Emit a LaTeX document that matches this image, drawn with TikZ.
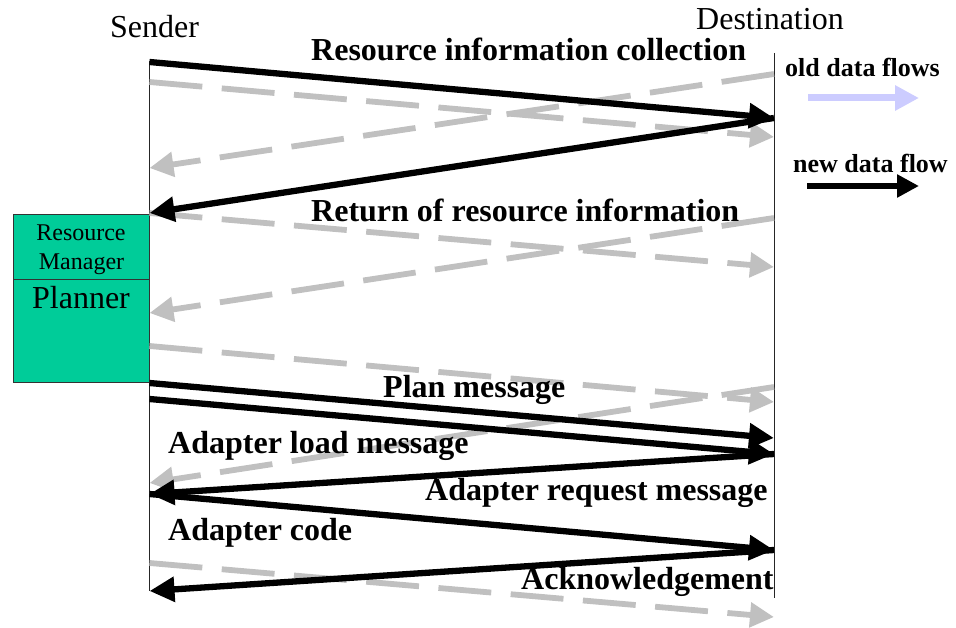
\documentclass[tikz,border=0pt]{standalone}
\usepackage{fontspec}
\setmainfont{Liberation Serif}
\usetikzlibrary{arrows.meta}
\definecolor{oldgray}{RGB}{192,192,192}
\definecolor{legendblue}{RGB}{204,204,255}
\definecolor{unitfill}{RGB}{0,204,153}

\begin{document}
\begin{tikzpicture}[x=1pt,y=-1pt,
  lifeline/.style={draw=black!85, line width=1pt},
  newflow/.style={draw=black, line width=6.3pt, -{Triangle[length=25pt,width=24pt]}},
  oldflow/.style={draw=oldgray, line width=5.8pt, dash pattern=on 53pt off 19.5pt,
    -{Triangle[length=24pt,width=24pt]}},
  heading/.style={font=\fontsize{32}{36}\selectfont, inner sep=0pt, anchor=base west},
  msglabel/.style={font=\fontsize{32}{36}\selectfont\bfseries, inner sep=0pt, anchor=base west},
  keylabel/.style={font=\fontsize{26}{30}\selectfont\bfseries, inner sep=0pt, anchor=base west},
  unit/.style={draw=black!80, line width=0.8pt, fill=unitfill, minimum width=136pt,
    inner sep=0pt, anchor=north west},
  unittext/.style={inner sep=0pt, anchor=base},
]
\useasboundingbox (0,0) rectangle (956,628);

% lifelines
\coordinate (sTop) at (149.5,61);
\coordinate (sEnd) at (149.5,591);
\coordinate (dTop) at (774,53);
\coordinate (dEnd) at (774,598);
\draw[lifeline] (sTop) -- (sEnd);
\draw[lifeline] (dTop) -- (dEnd);

% headings
\node[heading] (sender) at (110,37.7) {Sender};
\node[heading] (dest) at (696,29.3) {Destination};

% resource manager / planner unit
\node[unit, minimum height=65pt] (rm) at (13,214) {};
\node[unit, minimum height=103pt] (planner) at (13,279) {};
\node[unittext, font=\fontsize{24}{28}\selectfont] (rmA) at (81,240.7) {Resource};
\node[unittext, font=\fontsize{24}{28}\selectfont] (rmB) at (81.5,269.3) {Manager};
\node[unittext, font=\fontsize{32}{36}\selectfont] (plan) at (81,309) {Planner};

% message end points on the sender lifeline
\coordinate (s1) at (149.5,62);
\coordinate (s2) at (149.5,82);
\coordinate (s3) at (149.5,168);
\coordinate (s4) at (149.5,213);
\coordinate (s5) at (149.5,313);
\coordinate (s6) at (149.5,346);
\coordinate (s7) at (149.5,383);
\coordinate (s8) at (149.5,399);
\coordinate (s9) at (149.5,483);
\coordinate (s10) at (149.5,494);
\coordinate (s11) at (149.5,563);
\coordinate (s12) at (149.5,591);
% message end points on the destination lifeline
\coordinate (d1) at (774,74);
\coordinate (d2) at (774,118);
\coordinate (d3) at (774,137);
\coordinate (d4) at (774,218);
\coordinate (d5) at (774,267);
\coordinate (d6) at (774,387);
\coordinate (d7) at (774,402);
\coordinate (d8) at (774,438);
\coordinate (d9) at (774,454);
\coordinate (d10) at (774,550);
\coordinate (d11) at (774,617);

% old data flows
\draw[oldflow] (s2) -- (d3);
\draw[oldflow] (d1) -- (s3);
\draw[oldflow] (s4) -- (d5);
\draw[oldflow] (d4) -- (s5);
\draw[oldflow] (s6) -- (d7);
\draw[oldflow] (d6) -- (s9);
\draw[oldflow] (s11) -- (d11);

% new data flows
\draw[newflow] (s1) -- (d2);
\draw[newflow] (d2) -- (s4);
\draw[newflow] (s7) -- (d8);
\draw[newflow] (s8) -- (d9);
\draw[newflow] (d9) -- (s10);
\draw[newflow] (s10) -- (d10);
\draw[newflow] (d10) -- (s12);

% message labels
\node[msglabel] (m1) at (311,60.7) {Resource information collection};
\node[msglabel] (m2) at (311,221.7) {Return of resource information};
\node[msglabel] (m3) at (383,397) {Plan message};
\node[msglabel] (m4) at (168,453) {Adapter load message};
\node[msglabel] (m5) at (425,500) {Adapter request message};
\node[msglabel] (m6) at (168,540) {Adapter code};
\node[msglabel] (m7) at (521,589) {Acknowledgement};

% key
\node[keylabel] (kOld) at (785,77) {old data flows};
\coordinate (kOldA) at (808,98);
\coordinate (kOldB) at (919,98);
\draw[legendblue, line width=7pt, -{Triangle[length=24pt,width=24pt]}] (kOldA) -- (kOldB);
\node[keylabel] (kNew) at (793,173) {new data flow};
\coordinate (kNewA) at (807,186);
\coordinate (kNewB) at (919,186);
\draw[black, line width=6.5pt, -{Triangle[length=22pt,width=22pt]}] (kNewA) -- (kNewB);
\end{tikzpicture}
\end{document}
